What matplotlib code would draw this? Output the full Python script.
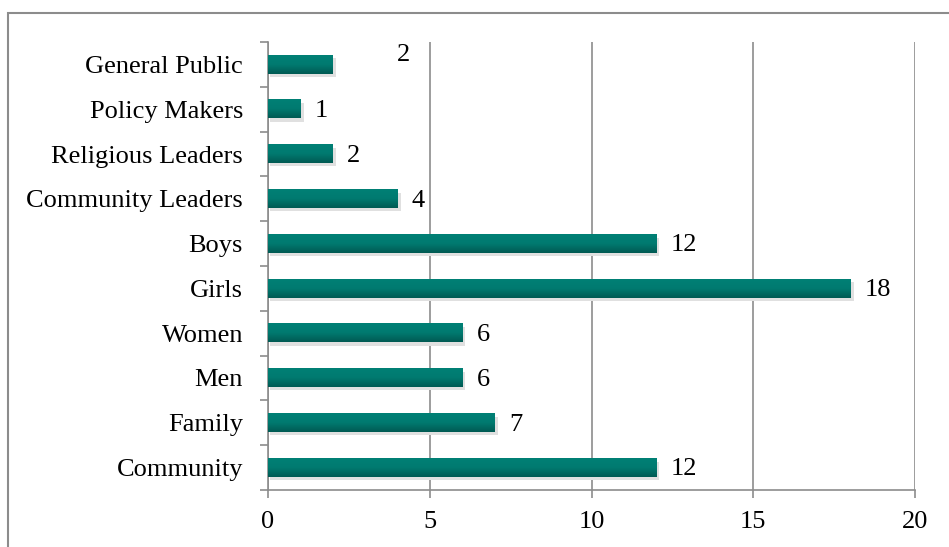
import numpy as np
import matplotlib.pyplot as plt
from matplotlib.patches import Rectangle
from matplotlib.colors import LinearSegmentedColormap

categories = ['Community', 'Family', 'Men', 'Women', 'Girls', 'Boys',
              'Community Leaders', 'Religious Leaders', 'Policy Makers', 'General Public']
values = [12, 7, 6, 6, 18, 12, 4, 2, 1, 2]

plt.rcParams['font.family'] = ['Liberation Serif', 'DejaVu Serif']

fig = plt.figure(figsize=(9.49, 5.47), dpi=100)
ax = fig.add_axes([268/949, 1 - 490/547, (915 - 268)/949, (490 - 42)/547])

# outer border (right and bottom edges are cut off in the reference)
fig.patches.append(Rectangle((8/949, -0.1), 1.2, 1 - 13/547 + 0.1, transform=fig.transFigure,
                             fill=False, edgecolor='#8c8c8c', linewidth=1.5, zorder=0))

y = np.arange(len(categories))
h = 0.41
grad = np.linspace(0, 1, 50).reshape(-1, 1)
cmap = LinearSegmentedColormap.from_list('teal', ['#005a54', '#007a70', '#008075'])

for yi, v in zip(y, values):
    # soft shadow under the bar
    ax.add_patch(Rectangle((0.05, yi - h/2 - 0.07), v + 0.05, h, facecolor='#e0e0e0',
                           edgecolor='none', zorder=2))
    ax.imshow(grad, cmap=cmap, aspect='auto', extent=(0, v, yi - h/2, yi + h/2),
              origin='lower', zorder=3)
    if yi == len(categories) - 1:
        ax.text(4.2, yi + 0.2, str(v), fontsize=19, va='center', ha='center', zorder=4)
    else:
        ax.text(v + 0.45, yi - 0.04, str(v), fontsize=19, va='center', ha='left', zorder=4)

ax.set_xlim(0, 20)
ax.set_ylim(-0.5, len(categories) - 0.5)
ax.set_xticks([0, 5, 10, 15, 20])
ax.set_yticks(y)
ax.set_yticklabels(categories)
ax.set_yticks(np.arange(-0.5, len(categories), 1), minor=True)
ax.tick_params(axis='y', which='major', length=0, pad=18, labelsize=19)
ax.tick_params(axis='y', which='minor', length=6, color='#8c8c8c', width=1.2)
ax.tick_params(axis='x', length=6, color='#8c8c8c', width=1.2, pad=9, labelsize=19)

ax.grid(axis='x', color='#8c8c8c', linewidth=1.2, zorder=1)
ax.set_axisbelow(True)
for s in ['top', 'right']:
    ax.spines[s].set_visible(False)
for s in ['left', 'bottom']:
    ax.spines[s].set_color('#8c8c8c')
    ax.spines[s].set_linewidth(1.2)

fig.savefig('out.png', dpi=100)
